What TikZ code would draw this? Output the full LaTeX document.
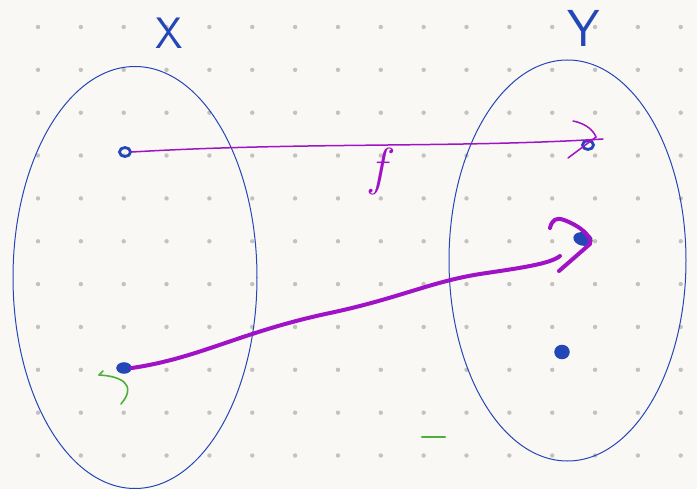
\documentclass[tikz,border=0pt]{standalone}
\usepackage{fontspec}
\usetikzlibrary{arrows.meta,shapes.geometric}
\definecolor{paper}{HTML}{FAF8F4}
\definecolor{gridgray}{HTML}{C4C2BE}
\definecolor{inkblue}{HTML}{2447B8}
\definecolor{inkpurple}{HTML}{A012C6}
\definecolor{inkgreen}{HTML}{4CB03A}
\tikzset{
  setline/.style={draw=inkblue, line width=1pt},
  ptring/.style={ellipse, draw=inkblue, line width=2.8pt, inner sep=0pt, minimum width=11pt, minimum height=9pt},
  ptdot/.style={ellipse, fill=inkblue, draw=inkblue, line width=1.5pt, inner sep=0pt},
  fline/.style={draw=inkpurple, line width=1.5pt, line cap=round},
  gline/.style={draw=inkpurple, line width=4pt, line cap=round, line join=round},
  greenink/.style={draw=inkgreen, line width=1.6pt, line cap=round},
  lbl/.style={inner sep=0pt}
}
\begin{document}
\begin{tikzpicture}[x=1pt,y=-1pt]
\fill[paper] (0,0) rectangle (697,489);
\useasboundingbox (0,0) rectangle (697,489);
% dot grid
\foreach \i in {0,...,15}
  \foreach \j in {0,...,10}
    \fill[gridgray] ({38+42.85*\i},{27+42.85*\j}) circle (2.2);
% sets
\draw[setline] (135,277.5) ellipse [x radius=122, y radius=211];
\draw[setline] (567.5,260.5) ellipse [x radius=118.5, y radius=200.5];
% labels
\node[lbl, text=inkblue, font=\sffamily\fontsize{44}{44}\selectfont] (X) at (169,33) {X};
\node[lbl, text=inkblue, font=\sffamily\fontsize{52}{52}\selectfont] (Y) at (584,28) {Y};
\node[lbl, text=inkpurple, font=\itshape\fontsize{52}{52}\selectfont] (f) at (378,172) {f};
% points
\node[ptring] (a) at (125,152) {};
\node[ptring] (b) at (588,145) {};
\node[ptdot, minimum width=14pt, minimum height=10pt] (c) at (124,368) {};
\node[ptdot, minimum width=18pt, minimum height=12pt, rotate=-12] (d) at (583,239) {};
\node[ptdot, minimum width=14pt, minimum height=13pt] (e) at (562,352) {};
% top arrow f
\coordinate (ftip) at (603,139);
\draw[fline] (a.east) .. controls (300,142) and (460,148) .. (ftip);
\draw[fline] (573,121) .. controls (588,124) and (594,132) .. (596,137) -- (568,158);
% thick arrow
\coordinate (gend) at (560,256);
\draw[gline] (c.east) .. controls (200,358) and (240,332) .. (330,313)
  .. controls (400,298) and (430,282) .. (480,274)
  .. controls (520,268) and (550,264) .. (gend);
\draw[gline] (550,228) .. controls (552,220) and (556,217) .. (564,220)
  .. controls (580,226) and (592,236) .. (590,244) -- (559,271);
% green marks
\draw[greenink] (99,375) .. controls (120,376) and (138,384) .. (121,404);
\draw[greenink] (99,375) -- (103,371);
\draw[greenink, line width=2.2pt] (422,437) -- (445,437);
\end{tikzpicture}
\end{document}
